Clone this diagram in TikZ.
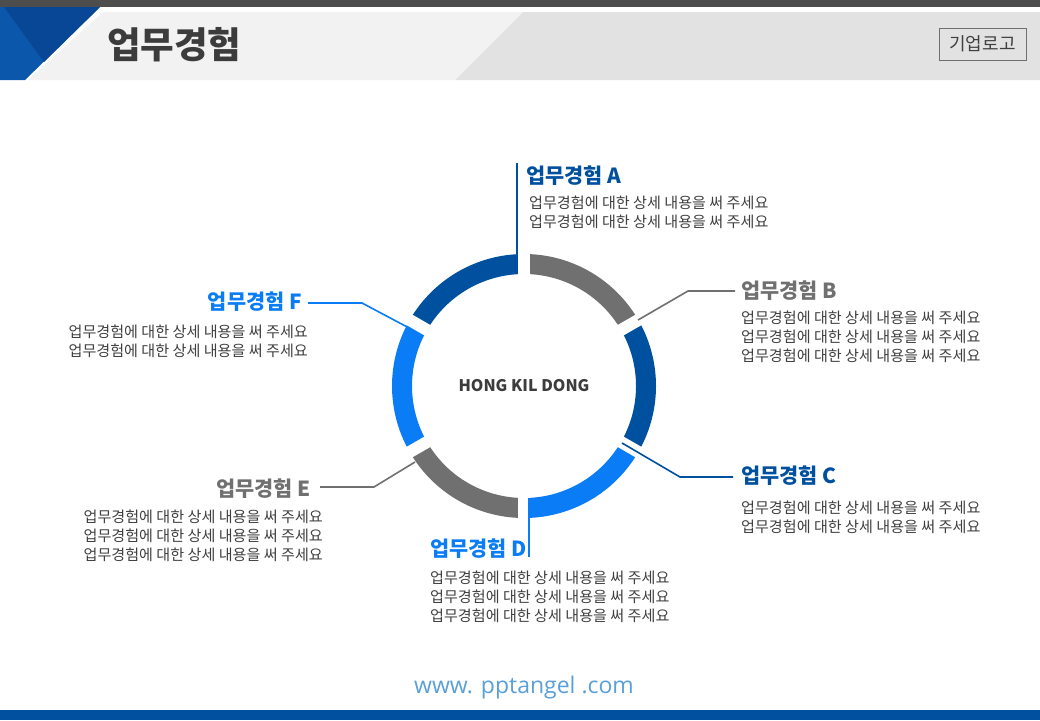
\documentclass[tikz,border=0pt]{standalone}
\usepackage{fontspec}
\setmainfont{Noto Sans CJK KR}
\newfontfamily\webfont{Open Sans}
\definecolor{dblue}{HTML}{0050A0}
\definecolor{bblue}{HTML}{0A7CF5}
\definecolor{rgray}{HTML}{707070}
\definecolor{bodygray}{HTML}{404040}
\definecolor{topbar}{HTML}{4D4D4D}
\definecolor{hlight}{HTML}{F2F2F2}
\definecolor{hdark}{HTML}{E2E2E2}
\definecolor{hblueA}{HTML}{0B57AB}
\definecolor{hblueB}{HTML}{084796}
\definecolor{webblue}{HTML}{5AA0D8}
\definecolor{titlegray}{HTML}{3C3C3C}
\begin{document}
\begin{tikzpicture}[x=1pt,y=-1pt,
  body/.style={font=\fontsize{15.1}{17}\selectfont, text=bodygray, inner sep=0pt},
  ttl/.style={font=\fontsize{20.8}{23}\selectfont\bfseries, inner sep=0pt},
  conn/.style={line width=1.6pt},
  seg/.style={line width=20pt},
  gapline/.style={white, line width=12pt}]
\useasboundingbox (0,0) rectangle (1040,720);
\fill[white] (0,0) rectangle (1040,720);
% header
\fill[topbar] (0,0) rectangle (1040,7);
\fill[hlight] (103,12) -- (523,12) -- (455,80) -- (28,80) -- cycle;
\fill[hdark] (523,12) -- (1040,12) -- (1040,80) -- (455,80) -- cycle;
\fill[hblueA] (0,7) -- (100,7) -- (25,80) -- (0,80) -- cycle;
\fill[hblueB] (4,7) -- (100,7) -- (44,62) -- cycle;
\node[font=\fontsize{36.5}{40}\selectfont\bfseries, text=titlegray, anchor=west, inner sep=0pt] (title) at (107,45) {업무경험};
\node[draw=rgray, line width=0.9pt, minimum width=87pt, minimum height=32pt, inner sep=0pt,
  font=\fontsize{18}{20}\selectfont, text=bodygray] (logo) at (982.5,44) {기업로고};
% footer
\fill[dblue] (0,710) rectangle (1040,720);
\node[font=\webfont\fontsize{23}{26}\selectfont, text=webblue, inner sep=0pt] (web) at (524,688) {www. pptangel .com};
% ring
\coordinate (C) at (524,386);
\foreach \a/\b/\c in {90/150/dblue, 30/90/rgray, -30/30/dblue, -90/-30/bblue, 210/270/rgray, 150/210/bblue}
  \draw[seg, \c] ([shift={(\a:122pt)}]C) arc[start angle=\a, end angle=\b, radius=122pt];
\foreach \g in {90,30,-30,-90,210,150}
  \draw[gapline] ([shift={(\g:100pt)}]C) -- ([shift={(\g:142pt)}]C);
\node[font=\fontsize{16}{18}\selectfont\bfseries, text=titlegray, inner sep=0pt] (center) at (C) {HONG KIL DONG};
% connectors
\coordinate (a0) at (517,272); \coordinate (a1) at (517,163);
\draw[conn, dblue, line width=2pt] (a0) -- (a1);
\coordinate (b0) at (638,320); \coordinate (b1) at (688,291); \coordinate (b2) at (735,291);
\draw[conn, rgray] (b0) -- (b1) -- (b2);
\coordinate (c0) at (622,443); \coordinate (c1) at (680,477); \coordinate (c2) at (733,477);
\draw[conn, dblue] (c0) -- (c1) -- (c2);
\coordinate (d0) at (529,498); \coordinate (d1) at (529,557);
\draw[conn, bblue, line width=2pt] (d0) -- (d1);
\coordinate (e0) at (415,462); \coordinate (e1) at (374,487); \coordinate (e2) at (320,487);
\draw[conn, rgray] (e0) -- (e1) -- (e2);
\coordinate (f0) at (411,329); \coordinate (f1) at (362,303); \coordinate (f2) at (308,303);
\draw[conn, bblue] (f0) -- (f1) -- (f2);
% texts
\def\bt{업무경험에 대한 상세 내용을 써 주세요}
\node[ttl, text=dblue, anchor=west] (ta) at (526,176) {업무경험 A};
\node[body, anchor=west] (a1t) at (529,203) {\bt};
\node[body, anchor=west] (a2t) at (529,222) {\bt};
\node[ttl, text=rgray, anchor=west] (tb) at (741,291) {업무경험 B};
\node[body, anchor=west] (b1t) at (741,318) {\bt};
\node[body, anchor=west] (b2t) at (741,337) {\bt};
\node[body, anchor=west] (b3t) at (741,356) {\bt};
\node[ttl, text=dblue, anchor=west] (tc) at (741,476) {업무경험 C};
\node[body, anchor=west] (c1t) at (741,508) {\bt};
\node[body, anchor=west] (c2t) at (741,527) {\bt};
\node[ttl, text=bblue, anchor=west] (td) at (430,549) {업무경험 D};
\node[body, anchor=west] (d1t) at (430,578) {\bt};
\node[body, anchor=west] (d2t) at (430,597) {\bt};
\node[body, anchor=west] (d3t) at (430,616) {\bt};
\node[ttl, text=rgray, anchor=east] (te) at (311,489) {업무경험 E};
\node[body, anchor=east] (e1t) at (323,517) {\bt};
\node[body, anchor=east] (e2t) at (323,536) {\bt};
\node[body, anchor=east] (e3t) at (323,555) {\bt};
\node[ttl, text=bblue, anchor=east] (tf) at (302,302) {업무경험 F};
\node[body, anchor=east] (f1t) at (308,332) {\bt};
\node[body, anchor=east] (f2t) at (308,351) {\bt};
\end{tikzpicture}
\end{document}
